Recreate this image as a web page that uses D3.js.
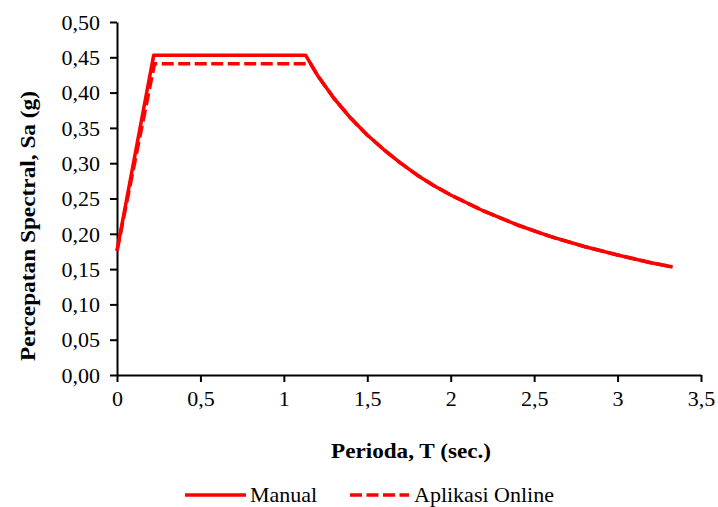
<!DOCTYPE html>
<html>
<head>
<meta charset="utf-8">
<script src="https://cdn.jsdelivr.net/npm/d3@7/dist/d3.min.js"></script>
<style>
  html, body { margin: 0; padding: 0; background: #fff; }
  svg { display: block; }
  svg text { font-family: "Liberation Serif", Tinos, "DejaVu Serif", serif; fill: #000; }
</style>
</head>
<body>
<svg id="chart" width="718" height="507"></svg>
<script>
// Response spectrum: period T (s) vs spectral acceleration Sa (g)
const manualT  = [0, 0.22, 1.13, 1.2, 1.3, 1.4, 1.5, 1.6, 1.7, 1.8, 1.9, 2.0, 2.2, 2.4, 2.6, 2.8, 3.0, 3.2, 3.33];
const manualSa = [0.176, 0.453, 0.453, 0.425, 0.392, 0.364, 0.340, 0.319, 0.300, 0.283, 0.268, 0.255, 0.232, 0.2125, 0.196, 0.182, 0.170, 0.159, 0.153];

const onlineT  = [0, 0.225, 1.16, 1.2, 1.3, 1.4, 1.5, 1.6, 1.7, 1.8, 1.9, 2.0, 2.2, 2.4, 2.6, 2.8, 3.0, 3.2, 3.33];
const onlineSa = [0.176, 0.441, 0.441, 0.425, 0.392, 0.364, 0.340, 0.319, 0.300, 0.283, 0.268, 0.255, 0.232, 0.2125, 0.196, 0.182, 0.170, 0.159, 0.153];

const xTicks = [0, 0.5, 1, 1.5, 2, 2.5, 3, 3.5];
const yTicks = [0, 0.05, 0.10, 0.15, 0.20, 0.25, 0.30, 0.35, 0.40, 0.45, 0.50];

const seriesNames = ["Manual", "Aplikasi Online"];

const FONT = '"Liberation Serif", Tinos, "DejaVu Serif", serif';
const svg = d3.select("#chart");
const plotLeft = 117, plotRight = 701, plotTop = 22, plotBottom = 375;

const x = d3.scaleLinear().domain([0, 3.5]).range([plotLeft, plotRight]);
const y = d3.scaleLinear().domain([0, 0.5]).range([plotBottom, plotTop]);

const fmtX = d => d3.format("~g")(d).replace(".", ",");
const fmtY = d => d3.format(".2f")(d).replace(".", ",");

// Axes
const xAxis = svg.append("g")
  .attr("transform", `translate(0,${plotBottom})`)
  .call(d3.axisBottom(x).tickValues(xTicks).tickFormat(fmtX).tickSize(7).tickSizeOuter(0));
const yAxis = svg.append("g")
  .attr("transform", `translate(${plotLeft},0)`)
  .call(d3.axisLeft(y).tickValues(yTicks).tickFormat(fmtY).tickSize(7).tickSizeOuter(0));

[xAxis, yAxis].forEach(a => {
  a.attr("font-family", FONT).attr("font-size", 22);
  a.select(".domain").attr("stroke", "#000").attr("stroke-width", 2);
  a.selectAll(".tick line").attr("stroke", "#000").attr("stroke-width", 2);
  a.selectAll(".tick text").attr("fill", "#000");
});
xAxis.selectAll(".tick text").attr("y", 12).attr("dy", "0.85em");
yAxis.selectAll(".tick text").attr("x", -17).attr("dy", "0.33em");

// Axis titles
svg.append("text")
  .attr("x", 411).attr("y", 458)
  .attr("text-anchor", "middle")
  .attr("font-family", FONT)
  .attr("font-weight", "bold").attr("font-size", 22)
  .attr("textLength", 160).attr("lengthAdjust", "spacingAndGlyphs")
  .text("Perioda, T (sec.)");

svg.append("text")
  .attr("transform", "translate(35,226) rotate(-90)")
  .attr("text-anchor", "middle")
  .attr("font-family", FONT)
  .attr("font-weight", "bold").attr("font-size", 22)
  .attr("textLength", 270).attr("lengthAdjust", "spacingAndGlyphs")
  .text("Percepatan Spectral, Sa (g)");

// Spectrum lines
const line = d3.line().x(d => x(d[0])).y(d => y(d[1]));

svg.append("path")
  .datum(d3.zip(onlineT, onlineSa))
  .attr("d", line)
  .attr("fill", "none")
  .attr("stroke", "#ff0000")
  .attr("stroke-width", 3.5)
  .attr("stroke-dasharray", "12,4.5")
  .attr("stroke-linejoin", "round");

svg.append("path")
  .datum(d3.zip(manualT, manualSa))
  .attr("d", line)
  .attr("fill", "none")
  .attr("stroke", "#ff0000")
  .attr("stroke-width", 3.5)
  .attr("stroke-linejoin", "round");

// Legend
const legend = svg.append("g").attr("transform", "translate(0,495)");
const items = [
  { name: seriesNames[0], x0: 185, x1: 246, tx: 250, dash: null },
  { name: seriesNames[1], x0: 350, x1: 409, tx: 414, dash: "12,4.5" }
];
items.forEach(it => {
  legend.append("line")
    .attr("x1", it.x0).attr("x2", it.x1)
    .attr("y1", 0).attr("y2", 0)
    .attr("stroke", "#ff0000").attr("stroke-width", 3.5)
    .attr("stroke-dasharray", it.dash);
  legend.append("text")
    .attr("x", it.tx).attr("y", 0).attr("dy", "0.33em")
    .attr("font-family", FONT).attr("font-size", 22)
    .text(it.name);
});
</script>
</body>
</html>
